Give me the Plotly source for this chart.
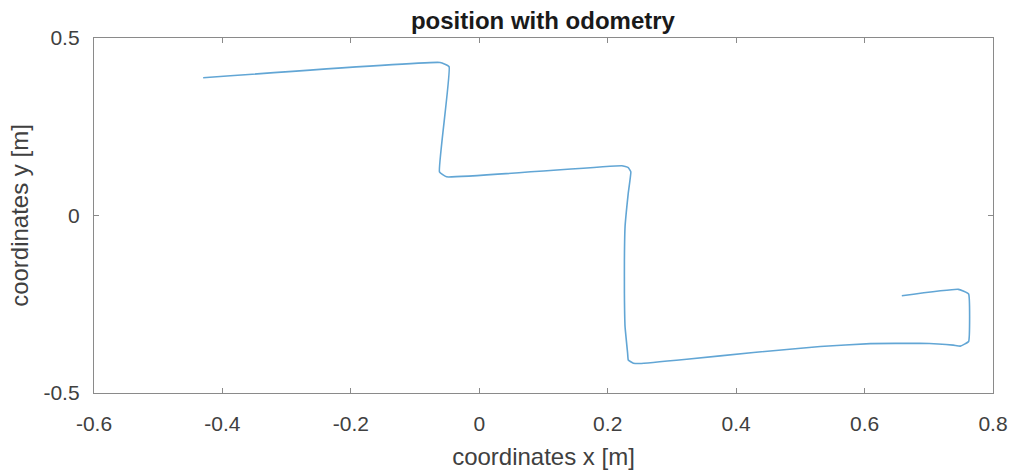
import plotly.graph_objects as go

# path (metres)
path_x = [-0.430, -0.061, -0.047, -0.062, -0.051, 0.222, 0.232, 0.236, 0.232, 0.227,
          0.226, 0.226, 0.227, 0.231, 0.232, 0.240, 0.250, 0.323, 0.427, 0.531,
          0.609, 0.686, 0.738, 0.749, 0.762, 0.762, 0.746, 0.658]
path_y = [0.388, 0.431, 0.419, 0.123, 0.109, 0.140, 0.135, 0.123, 0.063, -0.032,
          -0.125, -0.219, -0.313, -0.388, -0.407, -0.416, -0.417, -0.405, -0.386, -0.369,
          -0.361, -0.360, -0.365, -0.368, -0.355, -0.221, -0.208, -0.226]

x_ticks = [-0.6, -0.4, -0.2, 0, 0.2, 0.4, 0.6, 0.8]
x_tick_text = ["-0.6", "-0.4", "-0.2", "0", "0.2", "0.4", "0.6", "0.8"]
y_ticks = [-0.5, 0, 0.5]
y_tick_text = ["-0.5", "0", "0.5"]

font = "Liberation Sans, Arial, Helvetica, sans-serif"
axis_col = "#8a8a8a"
text_col = "#404040"

fig = go.Figure()
fig.add_trace(go.Scatter(x=path_x, y=path_y, mode="lines", line_shape="spline",
                         line=dict(color="#62a6d5", width=1.6, smoothing=0.3),
                         showlegend=False, hoverinfo="skip"))

common = dict(showline=True, linecolor=axis_col, linewidth=1.4, mirror="ticks",
              ticks="inside", ticklen=5, tickcolor=axis_col, tickwidth=1,
              showgrid=False, zeroline=False, automargin=False,
              tickfont=dict(family=font, size=21, color=text_col))

fig.update_layout(
    width=1012, height=471,
    margin=dict(l=94, r=19, t=38, b=78),
    paper_bgcolor="white", plot_bgcolor="white",
    title=dict(text="<b>position with odometry</b>", x=0.5365, xanchor="center",
               y=1 - 21 / 471, yref="container", yanchor="middle",
               font=dict(family=font, size=24, color="#1a1a1a")),
    xaxis=dict(range=[-0.6, 0.8], tickvals=x_ticks, ticktext=x_tick_text,
               ticklabelstandoff=12,
               title=dict(text="coordinates x [m]", standoff=13,
                          font=dict(family=font, size=24, color=text_col)),
               **common),
    yaxis=dict(range=[-0.5, 0.5], tickvals=y_ticks, ticktext=y_tick_text,
               ticklabelstandoff=9,
               title=dict(text="coordinates y [m]", standoff=8,
                          font=dict(family=font, size=24, color=text_col)),
               **common),
)

fig.write_html("out.html", config={"displayModeBar": False},
               post_script="document.body.style.margin='0';document.body.style.overflow='hidden';")
